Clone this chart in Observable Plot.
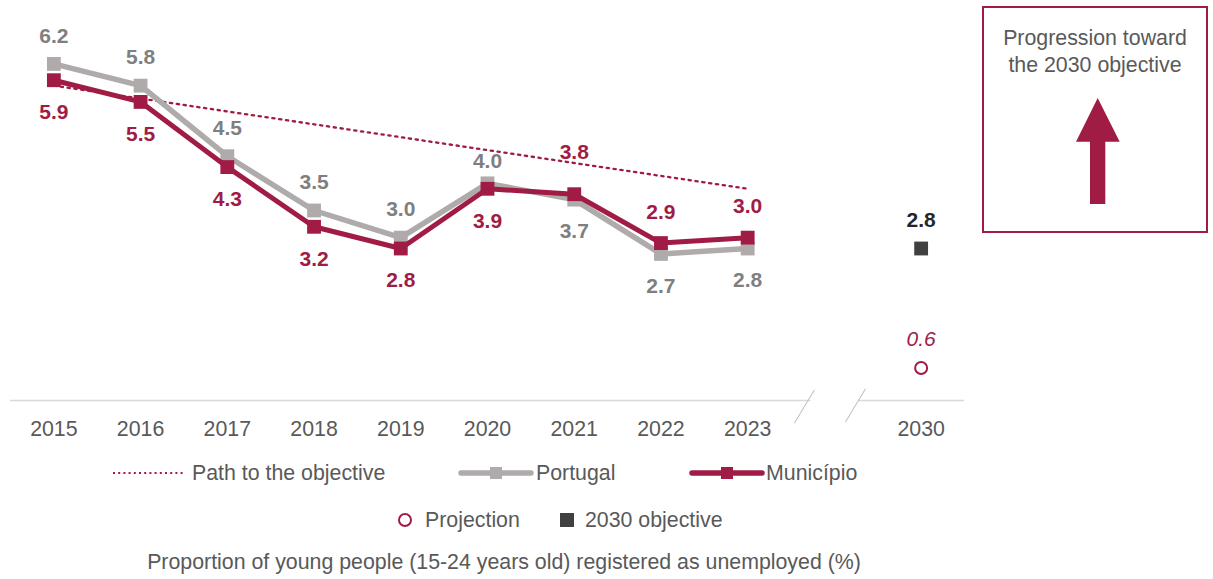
<!DOCTYPE html>
<html>
<head>
<meta charset="utf-8">
<script src="https://cdn.jsdelivr.net/npm/d3@7"></script>
<script src="https://cdn.jsdelivr.net/npm/@observablehq/plot@0.6"></script>
<style>
  html, body { margin: 0; padding: 0; background: #fff; }
  #wrap { position: relative; width: 1213px; height: 579px; font-family: "Liberation Sans", Arial, sans-serif; color: #595959; overflow: hidden; }
  #chart { position: absolute; left: 0; top: 0; }
  .abs { position: absolute; white-space: nowrap; }
  .lbl { font-size: 21.33px; line-height: 25px; transform: translateY(-50%); }
  #box { position: absolute; left: 982px; top: 6px; width: 222px; height: 223px; border: 2px solid #A01C45; }
  #boxtext { position: absolute; left: 0; width: 100%; top: 17px; text-align: center; font-size: 21.33px; line-height: 27px; color: #595959; }
</style>
</head>
<body>
<div id="wrap">
  <div id="chart"></div>
  <div id="box">
    <div id="boxtext">Progression toward<br>the 2030 objective</div>
    <svg width="222" height="223" style="position:absolute;left:0;top:0">
      <polygon points="113.7,90 135.7,133.7 121.3,133.7 121.3,196 106,196 106,133.7 92,133.7" fill="#A01C45"/>
    </svg>
  </div>
  <!-- legend row 1 -->
  <svg class="abs" style="left:112px;top:468px" width="72" height="10"><line x1="1" y1="5" x2="71" y2="5" stroke="#A01C45" stroke-width="2" stroke-dasharray="2,3.2"/></svg>
  <div class="abs lbl" style="left:192px;top:473px">Path to the objective</div>
  <svg class="abs" style="left:458px;top:464px" width="76" height="18"><line x1="3" y1="9" x2="73" y2="9" stroke="#AFABAB" stroke-width="5.5" stroke-linecap="round"/><rect x="32" y="3" width="12" height="12" fill="#AFABAB"/></svg>
  <div class="abs lbl" style="left:536px;top:473px">Portugal</div>
  <svg class="abs" style="left:689px;top:464px" width="76" height="18"><line x1="3" y1="9" x2="73" y2="9" stroke="#A01C45" stroke-width="5.5" stroke-linecap="round"/><rect x="32" y="3" width="12" height="12" fill="#A01C45"/></svg>
  <div class="abs lbl" style="left:766px;top:473px">Município</div>
  <!-- legend row 2 -->
  <svg class="abs" style="left:396px;top:511px" width="18" height="18"><circle cx="9" cy="9" r="6" fill="#fff" stroke="#A01C45" stroke-width="2"/></svg>
  <div class="abs lbl" style="left:425px;top:520px">Projection</div>
  <svg class="abs" style="left:559px;top:512px" width="16" height="16"><rect x="1" y="1" width="14" height="14" fill="#404040"/></svg>
  <div class="abs lbl" style="left:585px;top:520px">2030 objective</div>
  <!-- caption -->
  <div class="abs lbl" style="left:0;width:1008px;text-align:center;top:562px">Proportion of young people (15-24 years old) registered as unemployed (%)</div>
</div>
<script>
// ---- data ----
const years = ["2015", "2016", "2017", "2018", "2019", "2020", "2021", "2022", "2023"];
const portugal = [6.2, 5.8, 4.5, 3.5, 3.0, 4.0, 3.7, 2.7, 2.8];
const municipio = [5.9, 5.5, 4.3, 3.2, 2.8, 3.9, 3.8, 2.9, 3.0];
const pathYears = ["2015", "2023"];
const pathValues = [5.8, 3.9];
const targetYear = "2030";
const objective2030 = [2.8];
const projection2030 = [0.6];
const gapKey = "gap";
const xTicks = [...years, gapKey, targetYear];

// ---- tables ----
const RED = "#A01C45";
const GRAY = "#AFABAB";
const FS = 21;
const fmt = d3.format(".1f");
const pt = years.map((y, i) => ({year: y, value: portugal[i], other: municipio[i]}));
const mu = years.map((y, i) => ({year: y, value: municipio[i], other: portugal[i]}));
const path = pathYears.map((y, i) => ({year: y, value: pathValues[i]}));
const obj = objective2030.map(v => ({year: targetYear, value: v}));
const proj = projection2030.map(v => ({year: targetYear, value: v}));
const gap = [{year: gapKey, value: 0}];
const breakShape = {draw(ctx, l) { ctx.moveTo(0, 0); ctx.lineTo(0, -l); }};
// value of the dotted path at a given year (linear in position)
const i0 = years.indexOf(pathYears[0]), i1 = years.indexOf(pathYears[1]);
const pathAt = y => pathValues[0] + (pathValues[1] - pathValues[0]) * (years.indexOf(y) - i0) / (i1 - i0);
const nearPath = d => { const g = pathAt(d.year) - d.value; return g > 0 && g < 0.8; };

const chart = Plot.plot({
  width: 1213,
  height: 445,
  marginLeft: 10,
  marginRight: 249,
  marginTop: 20,
  marginBottom: 45,
  style: {fontFamily: "'Liberation Sans', Arial, sans-serif", fontSize: "21.33px", color: "#595959", background: "transparent", overflow: "visible"},
  x: {type: "point", domain: xTicks, padding: 0.5, round: false, tickSize: 0, tickPadding: 20, label: null, tickFormat: d => d === gapKey ? "" : d},
  y: {domain: [0, 7], axis: null},
  marks: [
    Plot.ruleY([0], {stroke: "#D9D9D9", strokeWidth: 1.5}),
    Plot.dot(gap, {x: "year", y: "value", symbol: "square", r: 27, fill: "white"}),
    Plot.vector(gap, {x: "year", y: "value", length: 38, rotate: 31, r: 0, shape: breakShape, anchor: "middle", stroke: "#BFBFBF", strokeWidth: 1, dx: -30, dy: 6}),
    Plot.vector(gap, {x: "year", y: "value", length: 38, rotate: 31, r: 0, shape: breakShape, anchor: "middle", stroke: "#BFBFBF", strokeWidth: 1, dx: 21, dy: 5}),
    Plot.line(path, {x: "year", y: "value", stroke: RED, strokeWidth: 2.3, strokeDasharray: "2.3,4.6"}),
    Plot.line(pt, {x: "year", y: "value", stroke: GRAY, strokeWidth: 5.5}),
    Plot.dot(pt, {x: "year", y: "value", symbol: "square", r: 7.8, fill: GRAY}),
    Plot.line(mu, {x: "year", y: "value", stroke: RED, strokeWidth: 5}),
    Plot.dot(mu, {x: "year", y: "value", symbol: "square", r: 7.8, fill: RED}),
    Plot.text(pt, {filter: d => d.value >= d.other && !nearPath(d), x: "year", y: "value", text: d => fmt(d.value), dy: -28, fill: "#7F7F7F", fontWeight: "bold", fontSize: FS}),
    Plot.text(pt, {filter: d => d.value >= d.other && nearPath(d), x: "year", y: "value", text: d => fmt(d.value), dy: -22, fill: "#7F7F7F", fontWeight: "bold", fontSize: FS}),
    Plot.text(pt, {filter: d => d.value < d.other, x: "year", y: "value", text: d => fmt(d.value), dy: 32, fill: "#7F7F7F", fontWeight: "bold", fontSize: FS}),
    Plot.text(mu, {filter: d => d.value > d.other && !nearPath(d), x: "year", y: "value", text: d => fmt(d.value), dy: -31, fill: RED, fontWeight: "bold", fontSize: FS}),
    Plot.text(mu, {filter: d => d.value > d.other && nearPath(d), x: "year", y: "value", text: d => fmt(d.value), dy: -42, fill: RED, fontWeight: "bold", fontSize: FS}),
    Plot.text(mu, {filter: d => d.value <= d.other, x: "year", y: "value", text: d => fmt(d.value), dy: 32, fill: RED, fontWeight: "bold", fontSize: FS}),
    Plot.dot(obj, {x: "year", y: "value", symbol: "square", r: 7.8, fill: "#404040"}),
    Plot.text(obj, {x: "year", y: "value", text: d => fmt(d.value), dy: -28, fill: "#262626", fontWeight: "bold", fontSize: FS}),
    Plot.dot(proj, {x: "year", y: "value", r: 6, fill: "white", stroke: RED, strokeWidth: 2}),
    Plot.text(proj, {x: "year", y: "value", text: d => fmt(d.value), dy: -29, fill: RED, fontStyle: "italic", fontSize: FS})
  ]
});
document.getElementById("chart").appendChild(chart);
</script>
</body>
</html>
